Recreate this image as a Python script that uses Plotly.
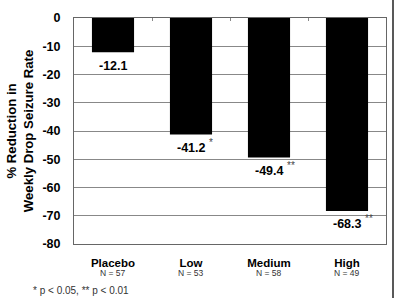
import plotly.graph_objects as go

categories = ["Placebo", "Low", "Medium", "High"]
n_values = [57, 53, 58, 49]
reductions = [-12.1, -41.2, -49.4, -68.3]
significance = ["", "*", "**", "**"]
y_ticks = [0, -10, -20, -30, -40, -50, -60, -70, -80]

PLOT_H = 226  # plot area height in px (298 - 18 - 54)

fig = go.Figure()
fig.add_trace(go.Bar(
    x=categories, y=reductions,
    marker=dict(color="black", line=dict(width=0)),
    width=0.54, hoverinfo="skip",
))
fig.add_trace(go.Scatter(x=categories, y=[None]*4, xaxis="x2", showlegend=False, hoverinfo="skip"))

for c, v, s in zip(categories, reductions, significance):
    fig.add_annotation(x=c, y=v, xref="x", yref="y", text=f"<b>{v}</b>", showarrow=False,
                       xanchor="center", yanchor="middle", yshift=-13.5,
                       font=dict(family="Arial", size=12.5, color="black"))
    if s:
        fig.add_annotation(x=c, y=v, xref="x", yref="y", text=s, showarrow=False,
                           xanchor="left", yanchor="middle", xshift=16, yshift=-8,
                           font=dict(family="Arial", size=10, color="#444"))

for c, n in zip(categories, n_values):
    fig.add_annotation(x=c, y=-(272.5-244)/PLOT_H, xref="x", yref="paper", text=f"N = {n}",
                       showarrow=False, xanchor="center", yanchor="middle",
                       font=dict(family="Arial", size=8.5, color="#333"))

fig.add_annotation(x=(31-74)/312, y=-(290.5-244)/PLOT_H, xref="paper", yref="paper",
                   text="* p < 0.05, ** p < 0.01",
                   showarrow=False, xanchor="left", yanchor="middle",
                   font=dict(family="Arial", size=10, color="#333"))

fig.add_shape(type="line", xref="paper", yref="paper",
              x0=(393-74)/312, x1=(393-74)/312, y0=-54/PLOT_H, y1=(226+18)/PLOT_H,
              line=dict(color="#222", width=1.5))

fig.update_layout(
    width=400, height=298,
    margin=dict(l=74, r=14, t=18, b=54, autoexpand=False),
    paper_bgcolor="white", plot_bgcolor="white",
    showlegend=False,
    font=dict(family="Arial", color="black"),
    xaxis=dict(tickmode="array", tickvals=categories, ticktext=[f"<b>{c}</b>" for c in categories],
               tickfont=dict(family="Arial", size=11.5, color="black"),
               showline=True, linecolor="#666", linewidth=1, mirror=True,
               ticks="", showgrid=False, ticklabelstandoff=8, automargin=False),
    xaxis2=dict(overlaying="x", matches="x", side="top", showticklabels=False,
                ticks="inside", tickson="boundaries", ticklen=3, tickcolor="#888",
                showgrid=False, showline=False),
    yaxis=dict(range=[-80, 0], tickvals=y_ticks, ticktext=[f"<b>{t}</b>" for t in y_ticks],
               tickfont=dict(family="Arial", size=12.5, color="black"),
               showgrid=True, gridcolor="#888", gridwidth=1,
               showline=True, linecolor="#666", linewidth=1, mirror=True,
               zeroline=False, ticks="", ticklabelstandoff=10, automargin=False,
               title=dict(text="<b>% Reduction in<br>Weekly Drop Seizure Rate</b>",
                          font=dict(family="Arial", size=13.2, color="black"), standoff=5)),
)

fig.write_html("out.html")
